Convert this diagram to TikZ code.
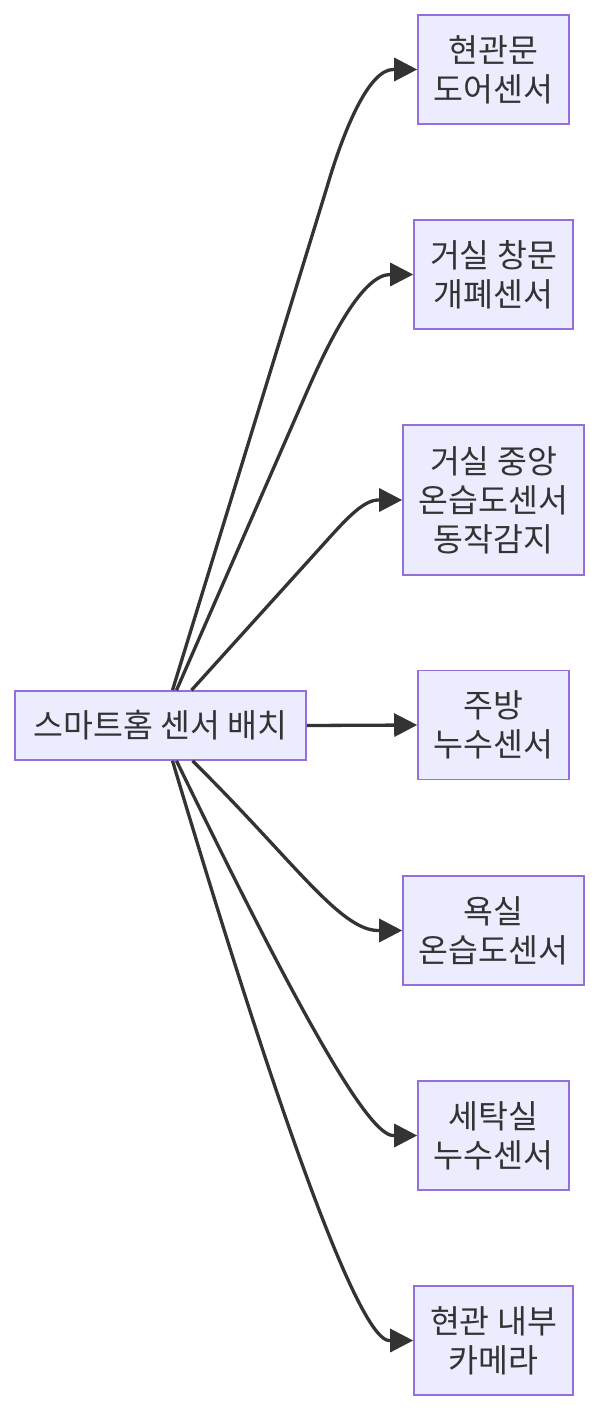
\documentclass[tikz,border=0pt]{standalone}
\usepackage{fontspec}
\setmainfont{Noto Sans CJK KR}
\usetikzlibrary{arrows.meta}
\definecolor{boxfill}{HTML}{ECECFF}
\definecolor{boxline}{HTML}{9370DB}
\definecolor{ink}{HTML}{333333}
\begin{document}
\begin{tikzpicture}[x=1pt,y=-1pt,
  box/.style={draw=boxline,fill=boxfill,line width=1.6pt,text=ink,align=center,inner sep=0pt,
    font=\fontsize{32.5}{39}\selectfont},
  edge/.style={draw=ink,line width=3.3pt,-{Triangle[length=23pt,width=23pt]}}]
\useasboundingbox[fill=white] (0,0) rectangle (600,1412);
\node[box,minimum width=291pt,minimum height=69pt] (root) at (160.5,725.5) {스마트홈 센서 배치};
\node[box,minimum width=151pt,minimum height=109pt] (n1) at (493.5,69.5) {현관문\\도어센서};
\node[box,minimum width=159pt,minimum height=109pt] (n2) at (493.5,274.5) {거실 창문\\개폐센서};
\node[box,minimum width=181pt,minimum height=150pt] (n3) at (493.5,500) {거실 중앙\\온습도센서\\동작감지};
\node[box,minimum width=151pt,minimum height=109pt] (n4) at (493.5,725) {주방\\누수센서};
\node[box,minimum width=181pt,minimum height=109pt] (n5) at (493.5,930.5) {욕실\\온습도센서};
\node[box,minimum width=151pt,minimum height=109pt] (n6) at (493.5,1135.5) {세탁실\\누수센서};
\node[box,minimum width=159pt,minimum height=109pt] (n7) at (493.5,1340.5) {현관 내부\\카메라};
\draw[edge] ([xshift=12pt]root.north) -- (327,187) .. controls (344,129) and (369,69.5) .. ([xshift=-24pt]n1.west) -- (n1.west);
\draw[edge] ([xshift=16pt]root.north) -- (309,387) .. controls (331,337) and (363,274.5) .. ([xshift=-23pt]n2.west) -- (n2.west);
\draw[edge] ([xshift=31pt]root.north) -- (330,537) .. controls (346.8,518.5) and (364,500) .. ([xshift=-24pt]n3.west) -- (n3.west);
\draw[edge] (root.east) -- (n4.west);
\draw[edge] ([xshift=32pt]root.south) .. controls (293,860) and (340,930.5) .. ([xshift=-24pt]n5.west) -- (n5.west);
\draw[edge] ([xshift=16pt]root.south) .. controls (307,1030) and (370,1135.5) .. ([xshift=-24pt]n6.west) -- (n6.west);
\draw[edge] ([xshift=12pt]root.south) .. controls (301,1191.5) and (365,1340.5) .. ([xshift=-24pt]n7.west) -- (n7.west);
\end{tikzpicture}
\end{document}
